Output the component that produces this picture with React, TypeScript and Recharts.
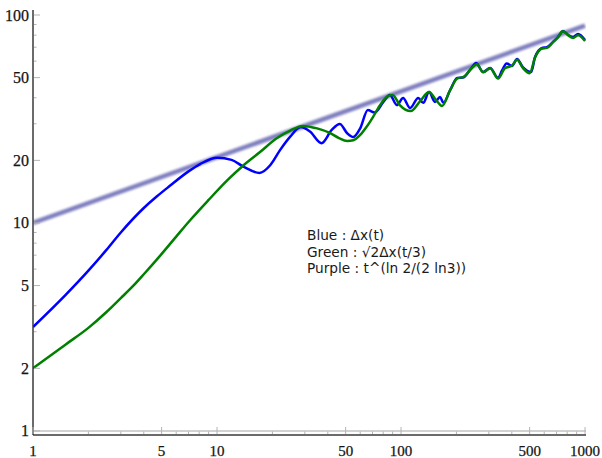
import React from "react";
import { LineChart, Line, XAxis, YAxis, ReferenceLine } from "recharts";

// ---- data (log-log axes) ----
const blueT = [1, 1.5, 2, 2.5, 3, 4, 4.7, 5.5, 7, 8.1, 10, 12, 14, 17, 19.5, 22, 25, 28.5, 32, 37, 42, 46.5, 51, 55, 60, 66, 72, 80, 87, 95, 102.6, 112, 124, 132, 142, 153, 163, 170, 185, 202, 217, 237, 256, 279, 305, 337, 354, 375, 401, 427, 460, 510, 535, 584, 621, 670, 713, 759, 809, 861, 916, 1000];
const blueV = [3.16, 4.5, 5.9, 7.4, 9.0, 11.8, 13.4, 15.0, 17.7, 19.2, 20.6, 20.1, 18.6, 17.4, 19.0, 22.4, 26.0, 28.9, 27.5, 24.2, 28.0, 29.9, 27.0, 25.9, 28.5, 34.9, 34.0, 38.1, 41.3, 36.9, 39.9, 35.7, 39.9, 37.8, 42.6, 38.2, 40.3, 37.8, 43.6, 49.8, 50.0, 54.4, 58.8, 53.2, 55.6, 49.8, 54.2, 58.5, 56.9, 61.4, 56.0, 53.2, 62.8, 69.4, 70.0, 74.2, 78.4, 83.8, 80.1, 78.4, 81.0, 75.8];

const greenT = [1, 1.5, 2, 2.5, 3, 3.5, 4, 4.9, 6, 7.1, 9, 11.5, 13.8, 17, 21.2, 25, 29.3, 35, 41, 46, 51, 55, 60, 65, 70.4, 77, 85, 90, 98.5, 113, 127, 142, 155, 167, 185, 202, 220, 240, 258, 280, 305, 337, 367, 400, 427, 460, 500, 535, 584, 621, 670, 713, 759, 809, 861, 916, 1000];
const greenV = [2.0, 2.6, 3.13, 3.72, 4.35, 4.98, 5.67, 6.95, 8.6, 10.25, 12.9, 16.2, 18.8, 21.8, 25.6, 27.8, 29.3, 28.5, 27.1, 25.6, 24.8, 25.0, 26.5, 29.0, 32.3, 36.9, 40.8, 41.3, 36.9, 34.5, 38.5, 42.6, 39.0, 36.5, 43.6, 49.5, 50.5, 55.0, 58.0, 53.0, 55.5, 49.5, 55.5, 57.0, 61.0, 55.5, 52.5, 62.5, 69.0, 69.5, 74.0, 78.0, 83.5, 80.0, 77.5, 80.0, 75.0];

const purpleT = [1, 1000];
const purpleV = [10, 89];

const xTicks = [1, 2, 3, 4, 5, 6, 7, 8, 9, 10, 20, 30, 40, 50, 60, 70, 80, 90, 100, 200, 300, 400, 500, 600, 700, 800, 900, 1000];
const xLabels = [1, 5, 10, 50, 100, 500, 1000];
const yTicks = [1, 2, 3, 4, 5, 6, 7, 8, 9, 10, 20, 30, 40, 50, 60, 70, 80, 90, 100];
const yLabels = [1, 2, 5, 10, 20, 50, 100];

const legendLines = ["Blue : \u0394x(t)", "Green : \u221A2\u0394x(t/3)", "Purple : t^(ln 2/(2 ln3))"];

const blueData = blueT.map((t, i) => ({ t, v: blueV[i] }));
const greenData = greenT.map((t, i) => ({ t, v: greenV[i] }));
const purpleData = purpleT.map((t, i) => ({ t, v: purpleV[i] }));

const OFF = 4;
const TICK_COLOR = "#b4b4b4";
const LABEL_FONT = "'Liberation Serif', 'Times New Roman', serif";
const AXIS_COLOR = "#3a3a3a";

const BottomTick = (p: any) => {
  const { x, y, payload } = p;
  const ay = y - OFF;
  const major = xLabels.includes(payload.value);
  return (
    <g>
      <line x1={x} x2={x} y1={ay - 1} y2={ay - (major ? 8 : 3.5)} stroke={TICK_COLOR} strokeWidth={1} />
      {major && (
        <text x={x} y={ay + 20.5} textAnchor="middle" fontFamily={LABEL_FONT} fontSize={15} fill="#151515" stroke="#151515" strokeWidth={0.25}>
          {payload.value}
        </text>
      )}
    </g>
  );
};

const TopTick = (p: any) => {
  const { x, y, payload } = p;
  const ay = y + OFF;
  const major = xLabels.includes(payload.value);
  return <line x1={x} x2={x} y1={ay + 1} y2={ay + (major ? 6 : 3)} stroke={TICK_COLOR} strokeWidth={1} />;
};

const LeftTick = (p: any) => {
  const { x, y, payload } = p;
  const ax = x + OFF;
  const major = yLabels.includes(payload.value);
  return (
    <g>
      <line x1={ax + 1} x2={ax + (major ? 7 : 3.5)} y1={y} y2={y} stroke={TICK_COLOR} strokeWidth={1} />
      {major && (
        <text x={x} y={y + 5.5} textAnchor="end" fontFamily={LABEL_FONT} fontSize={16} fill="#151515" stroke="#151515" strokeWidth={0.25}>
          {payload.value}
        </text>
      )}
    </g>
  );
};

const RightTick = (p: any) => {
  const { x, y, payload } = p;
  const ax = x - OFF;
  const major = yLabels.includes(payload.value);
  return <line x1={ax - 1} x2={ax - (major ? 6 : 3)} y1={y} y2={y} stroke={TICK_COLOR} strokeWidth={1} />;
};

const X_DOMAIN: [number, number] = [1, 1012];
const Y_DOMAIN: [number, number] = [0.956, 105.7];

export default function App() {
  return (
    <div style={{ position: "absolute", left: 0, top: 0, width: 602, height: 458, background: "#fff" }}>
      <LineChart width={602} height={458} margin={{ top: 10, right: 16, bottom: 0, left: 0 }}>
        <defs>
          <filter id="pblur" x="-5%" y="-50%" width="110%" height="200%">
            <feGaussianBlur stdDeviation="0.8" />
          </filter>
        </defs>
        <XAxis
          dataKey="t"
          type="number"
          scale="log"
          domain={X_DOMAIN}
          allowDataOverflow
          ticks={xTicks}
          interval={0}
          height={23}
          tickSize={OFF}
          tickMargin={0}
          tickLine={false}
          tick={<BottomTick />}
          axisLine={{ stroke: AXIS_COLOR, strokeWidth: 1.5 }}
        />
        <XAxis
          xAxisId="top"
          orientation="top"
          dataKey="t"
          type="number"
          scale="log"
          domain={X_DOMAIN}
          allowDataOverflow
          ticks={xTicks}
          interval={0}
          height={0}
          tickSize={OFF}
          tickMargin={0}
          tickLine={false}
          tick={<TopTick />}
          axisLine={{ stroke: AXIS_COLOR, strokeWidth: 1.5 }}
        />
        <YAxis
          type="number"
          scale="log"
          domain={Y_DOMAIN}
          allowDataOverflow
          ticks={yTicks}
          interval={0}
          width={33}
          tickSize={OFF}
          tickMargin={0}
          tickLine={false}
          tick={<LeftTick />}
          axisLine={{ stroke: AXIS_COLOR, strokeWidth: 1.5 }}
        />
        <YAxis
          yAxisId="r"
          orientation="right"
          type="number"
          scale="log"
          domain={Y_DOMAIN}
          allowDataOverflow
          ticks={yTicks}
          interval={0}
          width={0}
          tickSize={OFF}
          tickMargin={0}
          tickLine={false}
          tick={<RightTick />}
          axisLine={{ stroke: AXIS_COLOR, strokeWidth: 1.5 }}
        />
        <ReferenceLine y={1} stroke="#d2d2d2" strokeWidth={2} />
        <Line
          data={purpleData}
          dataKey="v"
          type="linear"
          stroke="#7f7fbf"
          strokeWidth={4.5}
          dot={false}
          filter="url(#pblur)"
          isAnimationActive={false}
        />
        <Line
          data={blueData}
          dataKey="v"
          type="monotone"
          stroke="#0000ff"
          strokeWidth={2.5}
          dot={false}
          isAnimationActive={false}
        />
        <Line
          data={greenData}
          dataKey="v"
          type="monotone"
          stroke="#008000"
          strokeWidth={2.5}
          dot={false}
          isAnimationActive={false}
        />
      </LineChart>
      <div
        style={{
          position: "absolute",
          left: 307,
          top: 227,
          fontFamily: "'DejaVu Sans', sans-serif",
          fontSize: 13.7,
          lineHeight: "16.5px",
          color: "#1a1a1a",
          whiteSpace: "nowrap",
        }}
      >
        {legendLines.map((s) => (
          <div key={s}>{s}</div>
        ))}
      </div>
    </div>
  );
}
